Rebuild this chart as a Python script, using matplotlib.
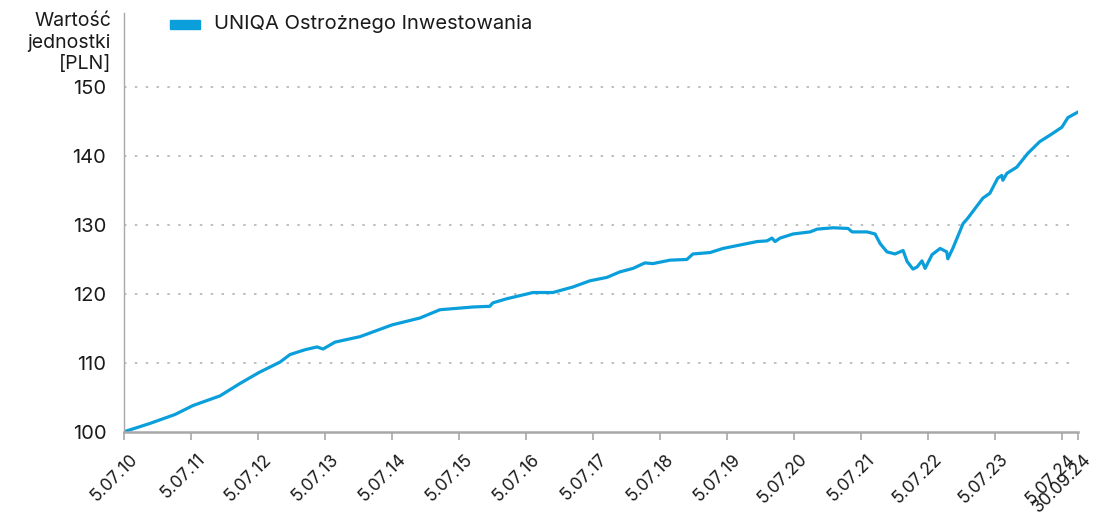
import matplotlib
matplotlib.use("Agg")
import matplotlib.pyplot as plt
import matplotlib.transforms as mtransforms
import pandas as pd

plt.rcParams['font.family'] = ['Inter', 'DejaVu Sans']

# wycena jednostki
dates = ["2010-07-05", "2010-11-22", "2011-04-08", "2011-07-15", "2011-12-09",
         "2012-03-27", "2012-07-09", "2012-10-31", "2012-12-25", "2013-03-17",
         "2013-05-21", "2013-06-23", "2013-08-27", "2014-01-11", "2014-07-04",
         "2014-12-03", "2015-03-22", "2015-09-18", "2015-12-19", "2016-01-05",
         "2016-03-21", "2016-08-11", "2016-11-27", "2017-03-16", "2017-06-17",
         "2017-09-18", "2017-11-28", "2018-02-07", "2018-04-13", "2018-05-27",
         "2018-08-28", "2018-11-28", "2018-12-31", "2019-04-03", "2019-06-13",
         "2019-09-14", "2019-12-16", "2020-02-08", "2020-03-06", "2020-03-23",
         "2020-04-19", "2020-06-29", "2020-09-30", "2020-11-07", "2021-02-02",
         "2021-04-25", "2021-05-17", "2021-08-07", "2021-09-19", "2021-10-17",
         "2021-11-23", "2022-01-06", "2022-02-19", "2022-03-13", "2022-04-14",
         "2022-05-06", "2022-06-02", "2022-06-19", "2022-07-27", "2022-09-09",
         "2022-10-15", "2022-10-21", "2022-11-17", "2023-01-12", "2023-02-07",
         "2023-04-30", "2023-06-07", "2023-07-20", "2023-08-11", "2023-08-17",
         "2023-09-08", "2023-11-01", "2023-12-31", "2024-03-05", "2024-05-15",
         "2024-07-04", "2024-08-06", "2024-09-30"]
values = [100.0, 101.2, 102.5, 103.8, 105.2,
          107.0, 108.6, 110.1, 111.2, 111.9,
          112.3, 112.0, 113.0, 113.8, 115.5,
          116.5, 117.7, 118.1, 118.2, 118.7,
          119.3, 120.2, 120.2, 121.0, 121.9,
          122.4, 123.2, 123.7, 124.5, 124.4,
          124.9, 125.0, 125.8, 126.0, 126.6,
          127.1, 127.6, 127.7, 128.1, 127.6,
          128.1, 128.7, 129.0, 129.4, 129.6,
          129.5, 129.0, 129.0, 128.7, 127.3,
          126.1, 125.8, 126.3, 124.7, 123.6,
          123.9, 124.8, 123.7, 125.7, 126.6,
          126.1, 125.1, 126.6, 130.2, 131.0,
          133.9, 134.6, 136.8, 137.2, 136.5,
          137.5, 138.4, 140.4, 142.1, 143.3,
          144.2, 145.6, 146.4]

tick_dates = ["2010-07-05", "2011-07-05", "2012-07-05", "2013-07-05", "2014-07-05",
              "2015-07-05", "2016-07-05", "2017-07-05", "2018-07-05", "2019-07-05",
              "2020-07-05", "2021-07-05", "2022-07-05", "2023-07-05", "2024-07-05",
              "2024-09-30"]
tick_labels = ["5.07.10", "5.07.11", "5.07.12", "5.07.13", "5.07.14", "5.07.15",
               "5.07.16", "5.07.17", "5.07.18", "5.07.19", "5.07.20", "5.07.21",
               "5.07.22", "5.07.23", "5.07.24", "30.09.24"]
y_ticks = [100, 110, 120, 130, 140, 150]

series_name = "UNIQA Ostrożnego Inwestowania"
y_title = "Wartość\njednostki\n[PLN]"

x = pd.to_datetime(dates)
xt = pd.to_datetime(tick_dates)

fig = plt.figure(figsize=(10.94, 5.13), dpi=100)
ax = fig.add_axes([0.1136, 0.1585, 0.8718, 0.8165])

line_col = '#0a9fdb'
ax.plot(x, values, color=line_col, lw=2.3, solid_joinstyle='round')

ax.set_xlim(xt[0], xt[-1])
ax.set_ylim(100, 160.8)

for v in y_ticks[1:]:
    ax.axhline(v, color='#b4b4b4', lw=1.2, ls=(0, (1.5, 5)), zorder=0,
               xmax=0.992)

for s in ['top', 'right']:
    ax.spines[s].set_visible(False)
ax.spines['left'].set_color('#a8a8a8')
ax.spines['left'].set_linewidth(1.0)
ax.spines['bottom'].set_color('#a8a8a8')
ax.spines['bottom'].set_linewidth(1.8)

ax.tick_params(axis='y', length=0, pad=13, labelsize=14.5, labelcolor='#1a1a1a')
ax.tick_params(axis='x', length=6, width=1.2, color='#a8a8a8', pad=7,
               labelsize=12.5, labelcolor='#1a1a1a')

ax.set_yticks(y_ticks)
ax.set_xticks(xt)
ax.set_xticklabels(tick_labels, rotation=45, ha='right', va='top',
                   rotation_mode='anchor')
# etykiety lekko w prawo jak w oryginale
shift = mtransforms.ScaledTranslation(5 / 100, -1 / 100, fig.dpi_scale_trans)
for lab in ax.get_xticklabels():
    lab.set_transform(lab.get_transform() + shift)

fig.text(111 / 1094, 1 - 12 / 513, y_title, ha='right', va='top',
         fontsize=14, color='#1a1a1a', linespacing=1.25)

# legenda
fig.patches.append(plt.Rectangle((170 / 1094, 1 - 29 / 513), 30 / 1094, 9 / 513,
                                 transform=fig.transFigure, color=line_col))
fig.text(214 / 1094, 1 - 24 / 513, series_name, ha='left', va='center',
         fontsize=14.5, color='#1a1a1a')

fig.savefig("out.png", dpi=100)
